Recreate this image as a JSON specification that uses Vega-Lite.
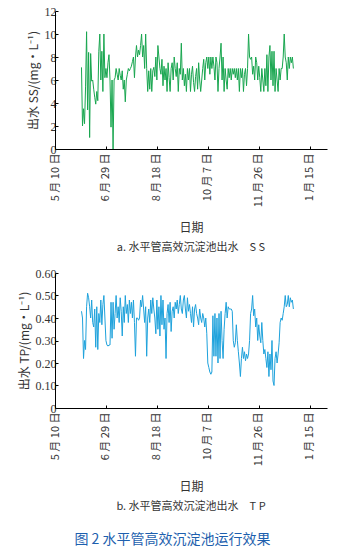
{
"$schema": "https://vega.github.io/schema/vega-lite/v6.json",
"background": "white",
"padding": {"left": 18, "top": 5, "right": 5, "bottom": 5},
"datasets": {"d": [
{"t":"2018-06-05","ss":7.1,"tp":0.43},{"t":"2018-06-06","ss":2.0,"tp":0.40},{"t":"2018-06-07","ss":3.5,"tp":0.22},{"t":"2018-06-08","ss":2.2,"tp":0.30},{"t":"2018-06-09","ss":5.4,"tp":0.26},{"t":"2018-06-10","ss":10.2,"tp":0.45},{"t":"2018-06-11","ss":3.4,"tp":0.51},{"t":"2018-06-12","ss":8.4,"tp":0.49},{"t":"2018-06-13","ss":1.0,"tp":0.45},{"t":"2018-06-14","ss":8.3,"tp":0.40},{"t":"2018-06-15","ss":5.9,"tp":0.48},{"t":"2018-06-16","ss":6.0,"tp":0.38},{"t":"2018-06-17","ss":5.2,"tp":0.36},{"t":"2018-06-18","ss":4.5,"tp":0.44},{"t":"2018-06-19","ss":3.9,"tp":0.27},{"t":"2018-06-20","ss":5.0,"tp":0.45},{"t":"2018-06-21","ss":4.2,"tp":0.26},{"t":"2018-06-22","ss":8.5,"tp":0.42},{"t":"2018-06-23","ss":10.0,"tp":0.38},{"t":"2018-06-24","ss":6.0,"tp":0.48},{"t":"2018-06-25","ss":8.5,"tp":0.37},{"t":"2018-06-26","ss":5.0,"tp":0.46},{"t":"2018-06-27","ss":10.0,"tp":0.50},{"t":"2018-06-28","ss":6.2,"tp":0.40},{"t":"2018-06-29","ss":7.0,"tp":0.30},{"t":"2018-06-30","ss":6.2,"tp":0.28},
{"t":"2018-07-01","ss":7.5,"tp":0.275},{"t":"2018-07-02","ss":8.2,"tp":0.28},{"t":"2018-07-03","ss":6.0,"tp":0.28},{"t":"2018-07-04","ss":1.9,"tp":0.47},{"t":"2018-07-05","ss":6.0,"tp":0.31},{"t":"2018-07-06","ss":0.0,"tp":0.47},{"t":"2018-07-07","ss":6.0,"tp":0.35},{"t":"2018-07-08","ss":6.2,"tp":0.42},{"t":"2018-07-09","ss":7.0,"tp":0.50},{"t":"2018-07-10","ss":6.5,"tp":0.40},{"t":"2018-07-11","ss":6.0,"tp":0.45},{"t":"2018-07-12","ss":7.0,"tp":0.38},{"t":"2018-07-13","ss":6.4,"tp":0.49},{"t":"2018-07-14","ss":6.0,"tp":0.43},{"t":"2018-07-15","ss":6.8,"tp":0.32},{"t":"2018-07-16","ss":5.2,"tp":0.45},{"t":"2018-07-17","ss":6.0,"tp":0.38},{"t":"2018-07-18","ss":4.1,"tp":0.50},{"t":"2018-07-19","ss":6.0,"tp":0.42},{"t":"2018-07-20","ss":6.5,"tp":0.46},{"t":"2018-07-21","ss":7.0,"tp":0.38},{"t":"2018-07-22","ss":6.8,"tp":0.48},{"t":"2018-07-23","ss":7.0,"tp":0.42},{"t":"2018-07-24","ss":7.2,"tp":0.47},{"t":"2018-07-25","ss":7.6,"tp":0.40},{"t":"2018-07-26","ss":8.0,"tp":0.48},{"t":"2018-07-27","ss":6.2,"tp":0.38},{"t":"2018-07-28","ss":8.0,"tp":0.23},{"t":"2018-07-29","ss":9.0,"tp":0.40},{"t":"2018-07-30","ss":8.0,"tp":0.40},{"t":"2018-07-31","ss":8.6,"tp":0.39},
{"t":"2018-08-01","ss":8.2,"tp":0.40},{"t":"2018-08-02","ss":9.0,"tp":0.48},{"t":"2018-08-03","ss":10.0,"tp":0.45},{"t":"2018-08-04","ss":8.0,"tp":0.50},{"t":"2018-08-05","ss":9.0,"tp":0.44},{"t":"2018-08-06","ss":7.0,"tp":0.38},{"t":"2018-08-07","ss":10.0,"tp":0.45},{"t":"2018-08-08","ss":7.0,"tp":0.23},{"t":"2018-08-09","ss":5.0,"tp":0.40},{"t":"2018-08-10","ss":6.8,"tp":0.44},{"t":"2018-08-11","ss":5.2,"tp":0.38},{"t":"2018-08-12","ss":7.0,"tp":0.48},{"t":"2018-08-13","ss":5.0,"tp":0.42},{"t":"2018-08-14","ss":6.8,"tp":0.49},{"t":"2018-08-15","ss":7.1,"tp":0.44},{"t":"2018-08-16","ss":6.3,"tp":0.40},{"t":"2018-08-17","ss":8.0,"tp":0.33},{"t":"2018-08-18","ss":6.0,"tp":0.48},{"t":"2018-08-19","ss":9.0,"tp":0.35},{"t":"2018-08-20","ss":8.0,"tp":0.45},{"t":"2018-08-21","ss":7.0,"tp":0.32},{"t":"2018-08-22","ss":6.5,"tp":0.50},{"t":"2018-08-23","ss":7.8,"tp":0.37},{"t":"2018-08-24","ss":5.5,"tp":0.48},{"t":"2018-08-25","ss":7.2,"tp":0.35},{"t":"2018-08-26","ss":6.0,"tp":0.40},{"t":"2018-08-27","ss":7.0,"tp":0.22},{"t":"2018-08-28","ss":5.0,"tp":0.42},{"t":"2018-08-29","ss":7.5,"tp":0.46},{"t":"2018-08-30","ss":6.2,"tp":0.38},{"t":"2018-08-31","ss":5.0,"tp":0.47},
{"t":"2018-09-01","ss":7.0,"tp":0.34},{"t":"2018-09-02","ss":7.5,"tp":0.43},{"t":"2018-09-03","ss":6.0,"tp":0.45},{"t":"2018-09-04","ss":8.0,"tp":0.40},{"t":"2018-09-05","ss":7.0,"tp":0.47},{"t":"2018-09-06","ss":6.3,"tp":0.44},{"t":"2018-09-07","ss":7.5,"tp":0.48},{"t":"2018-09-08","ss":5.0,"tp":0.42},{"t":"2018-09-09","ss":7.0,"tp":0.46},{"t":"2018-09-10","ss":6.5,"tp":0.50},{"t":"2018-09-11","ss":9.2,"tp":0.44},{"t":"2018-09-12","ss":6.0,"tp":0.42},{"t":"2018-09-13","ss":7.0,"tp":0.48},{"t":"2018-09-14","ss":5.5,"tp":0.50},{"t":"2018-09-15","ss":6.5,"tp":0.44},{"t":"2018-09-16","ss":5.0,"tp":0.40},{"t":"2018-09-17","ss":7.0,"tp":0.49},{"t":"2018-09-18","ss":6.0,"tp":0.43},{"t":"2018-09-19","ss":7.0,"tp":0.46},{"t":"2018-09-20","ss":5.0,"tp":0.42},{"t":"2018-09-21","ss":6.5,"tp":0.38},{"t":"2018-09-22","ss":7.2,"tp":0.45},{"t":"2018-09-23","ss":5.8,"tp":0.36},{"t":"2018-09-24","ss":5.0,"tp":0.44},{"t":"2018-09-25","ss":6.3,"tp":0.46},{"t":"2018-09-26","ss":7.0,"tp":0.42},{"t":"2018-09-27","ss":5.2,"tp":0.40},{"t":"2018-09-28","ss":7.5,"tp":0.37},{"t":"2018-09-29","ss":6.0,"tp":0.44},{"t":"2018-09-30","ss":5.0,"tp":0.40},
{"t":"2018-10-01","ss":6.0,"tp":0.38},{"t":"2018-10-02","ss":7.0,"tp":0.42},{"t":"2018-10-03","ss":7.8,"tp":0.40},{"t":"2018-10-04","ss":6.0,"tp":0.36},{"t":"2018-10-05","ss":7.5,"tp":0.40},{"t":"2018-10-06","ss":8.0,"tp":0.33},{"t":"2018-10-07","ss":7.0,"tp":0.20},{"t":"2018-10-08","ss":8.0,"tp":0.18},{"t":"2018-10-09","ss":6.5,"tp":0.16},{"t":"2018-10-10","ss":8.0,"tp":0.15},{"t":"2018-10-11","ss":7.0,"tp":0.16},{"t":"2018-10-12","ss":8.0,"tp":0.41},{"t":"2018-10-13","ss":7.2,"tp":0.23},{"t":"2018-10-14","ss":6.0,"tp":0.42},{"t":"2018-10-15","ss":8.0,"tp":0.23},{"t":"2018-10-16","ss":7.5,"tp":0.40},{"t":"2018-10-17","ss":5.0,"tp":0.20},{"t":"2018-10-18","ss":7.0,"tp":0.42},{"t":"2018-10-19","ss":8.0,"tp":0.22},{"t":"2018-10-20","ss":9.2,"tp":0.43},{"t":"2018-10-21","ss":6.0,"tp":0.30},{"t":"2018-10-22","ss":8.0,"tp":0.22},{"t":"2018-10-23","ss":5.0,"tp":0.35},{"t":"2018-10-24","ss":7.0,"tp":0.42},{"t":"2018-10-25","ss":6.0,"tp":0.47},{"t":"2018-10-26","ss":5.2,"tp":0.40},{"t":"2018-10-27","ss":7.0,"tp":0.45},{"t":"2018-10-28","ss":6.2,"tp":0.44},{"t":"2018-10-29","ss":7.0,"tp":0.44},{"t":"2018-10-30","ss":6.0,"tp":0.44},{"t":"2018-10-31","ss":7.0,"tp":0.43},
{"t":"2018-11-01","ss":6.5,"tp":0.30},{"t":"2018-11-02","ss":7.0,"tp":0.27},{"t":"2018-11-03","ss":6.2,"tp":0.29},{"t":"2018-11-04","ss":7.0,"tp":0.37},{"t":"2018-11-05","ss":6.0,"tp":0.30},{"t":"2018-11-06","ss":7.0,"tp":0.25},{"t":"2018-11-07","ss":5.0,"tp":0.20},{"t":"2018-11-08","ss":7.0,"tp":0.14},{"t":"2018-11-09","ss":6.2,"tp":0.22},{"t":"2018-11-10","ss":7.0,"tp":0.27},{"t":"2018-11-11","ss":5.0,"tp":0.22},{"t":"2018-11-12","ss":6.5,"tp":0.25},{"t":"2018-11-13","ss":7.0,"tp":0.21},{"t":"2018-11-14","ss":5.5,"tp":0.24},{"t":"2018-11-15","ss":7.0,"tp":0.22},{"t":"2018-11-16","ss":10.0,"tp":0.24},{"t":"2018-11-17","ss":8.0,"tp":0.30},{"t":"2018-11-18","ss":7.8,"tp":0.42},{"t":"2018-11-19","ss":8.0,"tp":0.44},{"t":"2018-11-20","ss":6.5,"tp":0.50},{"t":"2018-11-21","ss":7.2,"tp":0.41},{"t":"2018-11-22","ss":6.0,"tp":0.44},{"t":"2018-11-23","ss":8.0,"tp":0.36},{"t":"2018-11-24","ss":7.5,"tp":0.40},{"t":"2018-11-25","ss":6.0,"tp":0.30},{"t":"2018-11-26","ss":7.2,"tp":0.37},{"t":"2018-11-27","ss":6.2,"tp":0.32},{"t":"2018-11-28","ss":5.0,"tp":0.29},{"t":"2018-11-29","ss":7.0,"tp":0.38},{"t":"2018-11-30","ss":6.0,"tp":0.30},
{"t":"2018-12-01","ss":5.0,"tp":0.24},{"t":"2018-12-02","ss":7.0,"tp":0.26},{"t":"2018-12-03","ss":5.5,"tp":0.22},{"t":"2018-12-04","ss":8.2,"tp":0.18},{"t":"2018-12-05","ss":5.0,"tp":0.25},{"t":"2018-12-06","ss":8.0,"tp":0.14},{"t":"2018-12-07","ss":9.0,"tp":0.24},{"t":"2018-12-08","ss":6.0,"tp":0.17},{"t":"2018-12-09","ss":8.5,"tp":0.30},{"t":"2018-12-10","ss":5.5,"tp":0.12},{"t":"2018-12-11","ss":8.5,"tp":0.10},{"t":"2018-12-12","ss":5.0,"tp":0.22},{"t":"2018-12-13","ss":7.0,"tp":0.25},{"t":"2018-12-14","ss":6.0,"tp":0.20},{"t":"2018-12-15","ss":5.0,"tp":0.24},{"t":"2018-12-16","ss":7.0,"tp":0.29},{"t":"2018-12-17","ss":6.0,"tp":0.38},{"t":"2018-12-18","ss":7.0,"tp":0.40},{"t":"2018-12-19","ss":7.0,"tp":0.39},{"t":"2018-12-20","ss":8.0,"tp":0.42},{"t":"2018-12-21","ss":10.0,"tp":0.45},{"t":"2018-12-22","ss":8.0,"tp":0.50},{"t":"2018-12-23","ss":7.5,"tp":0.45},{"t":"2018-12-24","ss":6.0,"tp":0.46},{"t":"2018-12-25","ss":8.0,"tp":0.50},{"t":"2018-12-26","ss":7.0,"tp":0.45},{"t":"2018-12-27","ss":8.0,"tp":0.49},{"t":"2018-12-28","ss":7.5,"tp":0.47},{"t":"2018-12-29","ss":8.0,"tp":0.48},{"t":"2018-12-30","ss":7.0,"tp":0.44}
]},
"spacing": 14,
"vconcat": [
{
"data": {"name": "d"},
"width": 272, "height": 138,
"title": {"text": "a. 水平管高效沉淀池出水　S S", "orient": "bottom", "anchor": "middle", "offset": 8, "fontSize": 11, "fontWeight": "normal", "font": "Noto Sans CJK SC", "color": "#333333"},
"mark": {"type": "line", "color": "#18a64f", "strokeWidth": 1},
"encoding": {
"x": {"field": "t", "type": "temporal", "scale": {"type": "utc", "domain": [1525910400000, 1548979200000]},
"axis": {"title": "日期", "values": [1525910400000, 1530230400000, 1534550400000, 1538870400000, 1543190400000, 1547510400000], "labelExpr": "utcFormat(datum.value, '%-m 月 %-d 日')", "labelAngle": -90, "labelAlign": "right", "labelBaseline": "middle", "labelPadding": 7, "titlePadding": 16}},
"y": {"field": "ss", "type": "quantitative", "scale": {"domain": [0, 12], "nice": false},
"axis": {"title": "出水 SS/(mg·L⁻¹)", "values": [0, 2, 4, 6, 8, 10, 12], "labelFont": "Liberation Serif", "labelFontSize": 12}}
}
},
{
"data": {"name": "d"},
"width": 272, "height": 135,
"title": {"text": "b. 水平管高效沉淀池出水　T P", "orient": "bottom", "anchor": "middle", "offset": 8, "fontSize": 11, "fontWeight": "normal", "font": "Noto Sans CJK SC", "color": "#333333"},
"mark": {"type": "line", "color": "#1ea2dc", "strokeWidth": 1},
"encoding": {
"x": {"field": "t", "type": "temporal", "scale": {"type": "utc", "domain": [1525910400000, 1548979200000]},
"axis": {"title": "日期", "values": [1525910400000, 1530230400000, 1534550400000, 1538870400000, 1543190400000, 1547510400000], "labelExpr": "utcFormat(datum.value, '%-m 月 %-d 日')", "labelAngle": -90, "labelAlign": "right", "labelBaseline": "middle", "labelPadding": 7, "titlePadding": 16}},
"y": {"field": "tp", "type": "quantitative", "scale": {"domain": [0, 0.6], "nice": false},
"axis": {"title": "出水 TP/(mg·L⁻¹)", "values": [0, 0.1, 0.2, 0.3, 0.4, 0.5, 0.6], "labelExpr": "datum.value == 0 ? '0' : format(datum.value, '.2f')", "labelFont": "Liberation Serif", "labelFontSize": 12}}
}
}
],
"title": {"text": "图 2  水平管高效沉淀池运行效果", "orient": "bottom", "anchor": "middle", "offset": 21, "fontSize": 14, "fontWeight": "normal", "font": "Noto Sans CJK SC", "color": "#1d5fae"},
"config": {
"view": {"stroke": null},
"axis": {"grid": false, "domainColor": "#000000", "domainWidth": 1, "tickColor": "#000000", "tickSize": -3, "labelColor": "#333333", "labelFont": "Noto Sans CJK SC", "labelFontSize": 11, "titleFont": "Noto Sans CJK SC", "titleFontSize": 12, "titleFontWeight": "normal", "titleColor": "#333333"}
}
}
